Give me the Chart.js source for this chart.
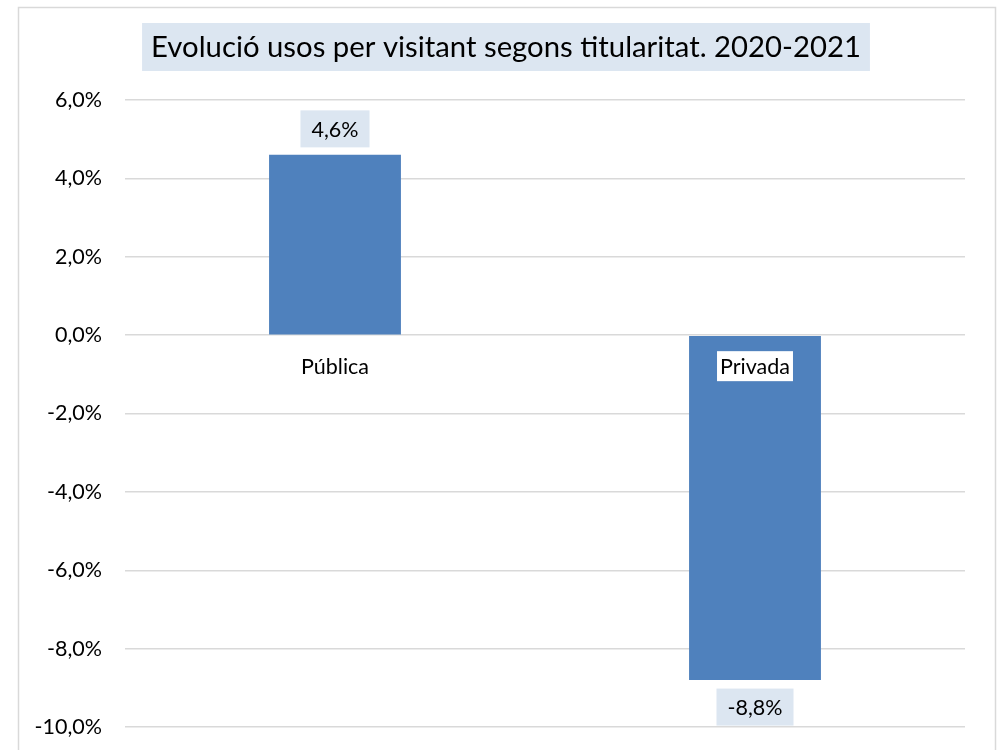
<!DOCTYPE html>
<html lang="ca">
<head>
  <meta charset="UTF-8" />
  <title>Evolució usos per visitant segons titularitat</title>
  <script src="https://cdn.jsdelivr.net/npm/chart.js"></script>
  <style>
    body { margin: 0; background: #fff; overflow: hidden; }
    canvas { display: block; }
  </style>
</head>
<body>
  <!-- taller than the window: the bottom edge of the frame is cut off as in the original -->
  <canvas id="chart" width="1000" height="763"></canvas>
  <script>
    const categories = ['Pública', 'Privada'];
    const values = [4.6, -8.8];
    const titleText = 'Evolució usos per visitant segons titularitat. 2020-2021';

    const FONT = 'Lato, "Open Sans", sans-serif';
    const pct = v => v.toFixed(1).replace('.', ',') + '%';

    // frame, title box, value labels and category labels like the Excel original
    const decor = {
      id: 'decor',
      beforeDraw(chart) {
        const ctx = chart.ctx;
        ctx.save();
        ctx.fillStyle = '#fff';
        ctx.fillRect(0, 0, chart.width, chart.height);
        ctx.strokeStyle = '#d9d9d9';
        ctx.lineWidth = 1.5;
        ctx.strokeRect(18.5, 7.5, 977, 800);

        ctx.font = '29.3px ' + FONT;
        ctx.textAlign = 'center';
        ctx.textBaseline = 'middle';
        const tw = ctx.measureText(titleText).width;
        const cx = 506;
        ctx.fillStyle = '#dce6f1';
        ctx.fillRect(cx - tw / 2 - 9, 23, tw + 18, 48);
        ctx.fillStyle = '#000';
        ctx.fillText(titleText, cx, 48);
        ctx.restore();
      },
      afterDatasetsDraw(chart) {
        const ctx = chart.ctx;
        const xs = chart.scales.x, ys = chart.scales.y;
        const zero = ys.getPixelForValue(0);
        ctx.save();
        ctx.font = '21.5px ' + FONT;
        ctx.textAlign = 'center';
        ctx.textBaseline = 'middle';
        values.forEach((v, i) => {
          const x = xs.getPixelForValue(i);
          const end = ys.getPixelForValue(v);
          const txt = pct(v);
          const w = ctx.measureText(txt).width + 22;
          const yc = v >= 0 ? end - 26 : end + 27;
          ctx.fillStyle = '#dce6f1';
          ctx.fillRect(x - w / 2, yc - 18.5, w, 37);
          ctx.fillStyle = '#000';
          ctx.fillText(txt, x, yc + 1);

          // category label next to the axis
          const lab = categories[i];
          const lw = ctx.measureText(lab).width + 6;
          const ly = zero + 31;
          ctx.fillStyle = '#fff';
          ctx.fillRect(x - lw / 2, ly - 15, lw, 30);
          ctx.fillStyle = '#000';
          ctx.fillText(lab, x, ly + 1);
        });
        ctx.restore();
      }
    };

    new Chart(document.getElementById('chart'), {
      type: 'bar',
      data: {
        labels: categories,
        datasets: [{
          data: values,
          backgroundColor: '#4f81bd',
          borderWidth: 0,
          categoryPercentage: 1,
          barPercentage: 0.314
        }]
      },
      options: {
        responsive: false,
        animation: false,
        layout: { padding: { left: 0, right: 35, top: 100, bottom: 0 } },
        plugins: {
          legend: { display: false },
          tooltip: { enabled: false },
          title: { display: false }
        },
        scales: {
          x: { display: false },
          y: {
            min: -10,
            max: 6,
            afterFit(scale) { scale.width = 125; },
            border: { display: false },
            grid: { color: '#d9d9d9', lineWidth: 1.5, drawTicks: false },
            ticks: {
              stepSize: 2,
              padding: 23,
              color: '#000',
              font: { family: FONT, size: 21.5 },
              callback: v => pct(v)
            }
          }
        }
      },
      plugins: [decor]
    });
  </script>
</body>
</html>
